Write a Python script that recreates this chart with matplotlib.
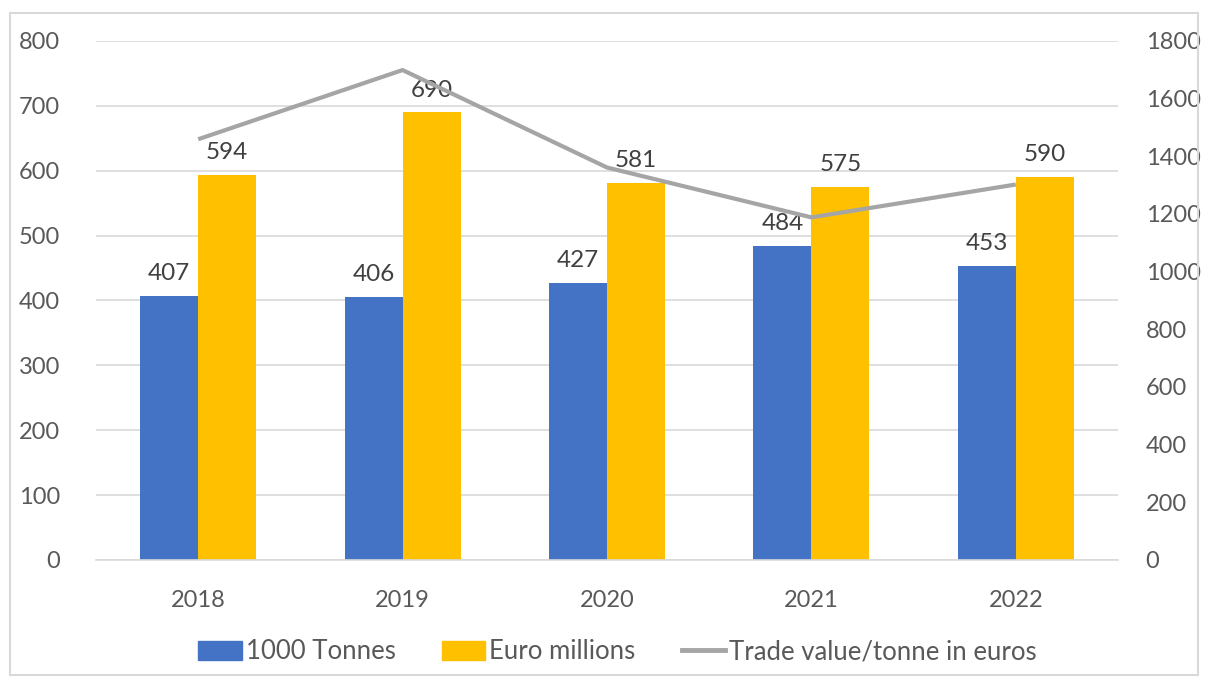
import numpy as np
import matplotlib.pyplot as plt
from matplotlib.patches import Rectangle
from matplotlib.lines import Line2D

years = ['2018', '2019', '2020', '2021', '2022']
tonnes = [407, 406, 427, 484, 453]
euro_m = [594, 690, 581, 575, 590]
value_per_tonne = [1459, 1699, 1361, 1188, 1302]

blue = '#4472C4'
orange = '#FFC000'
grey = '#A5A5A5'
txt = '#595959'

plt.rcParams['font.family'] = ['Lato', 'DejaVu Sans']

fig = plt.figure(figsize=(12.06, 6.82), dpi=100)
ax = fig.add_axes([0.0796, 0.179, 0.8474, 0.761])
ax2 = ax.twinx()

x = np.arange(len(years))
w = 0.284
b1 = ax.bar(x - w / 2, tonnes, w, color=blue, zorder=2)
b2 = ax.bar(x + w / 2, euro_m, w, color=orange, zorder=2)
for rects, vals in ((b1, tonnes), (b2, euro_m)):
    for r, v in zip(rects, vals):
        ax.text(r.get_x() + r.get_width() / 2, v + 18, str(v), ha='center', va='bottom',
                fontsize=17.5, color='#404040', zorder=3)

ax2.plot(x, value_per_tonne, color=grey, lw=3, solid_capstyle='butt', zorder=4)

ax.set_xlim(-0.5, 4.5)
ax.set_ylim(0, 800)
ax.set_yticks(range(0, 801, 100))
ax2.set_ylim(0, 1800)
ax2.set_yticks(range(0, 1801, 200))
ax.set_xticks(x)
ax.set_xticklabels(years)

ax.grid(axis='y', color='#D9D9D9', lw=1.2, zorder=0)
ax.set_axisbelow(True)
for a in (ax, ax2):
    for s in ('top', 'left', 'right', 'bottom'):
        a.spines[s].set_visible(False)
ax.spines['bottom'].set_visible(True)
ax.spines['bottom'].set_color('#D9D9D9')
ax.spines['bottom'].set_linewidth(1.2)

ax.tick_params(axis='y', length=0, labelsize=17, labelcolor=txt, pad=26)
ax.tick_params(axis='x', length=0, labelsize=17, labelcolor=txt, pad=22)
ax2.tick_params(axis='y', length=0, labelsize=17, labelcolor=txt, pad=20)
ax2.patch.set_visible(False)

handles = [Rectangle((0, 0), 1, 1, color=blue), Rectangle((0, 0), 1, 1, color=orange),
           Line2D([0], [0], color=grey, lw=3.5)]
fig.legend(handles, ['1000 Tonnes', 'Euro millions', 'Trade value/tonne in euros'],
           loc='center', bbox_to_anchor=(0.512, 0.044), ncol=3, frameon=False,
           fontsize=18.5, labelcolor=txt, handlelength=1.7, handleheight=0.75,
           handletextpad=0.15, columnspacing=1.8)

fig.add_artist(Rectangle((10 / 1206, 7 / 682), 1188 / 1206, 662 / 682, transform=fig.transFigure,
                         fill=False, edgecolor='#D9D9D9', lw=1.5))

fig.savefig('out.png', dpi=100)
